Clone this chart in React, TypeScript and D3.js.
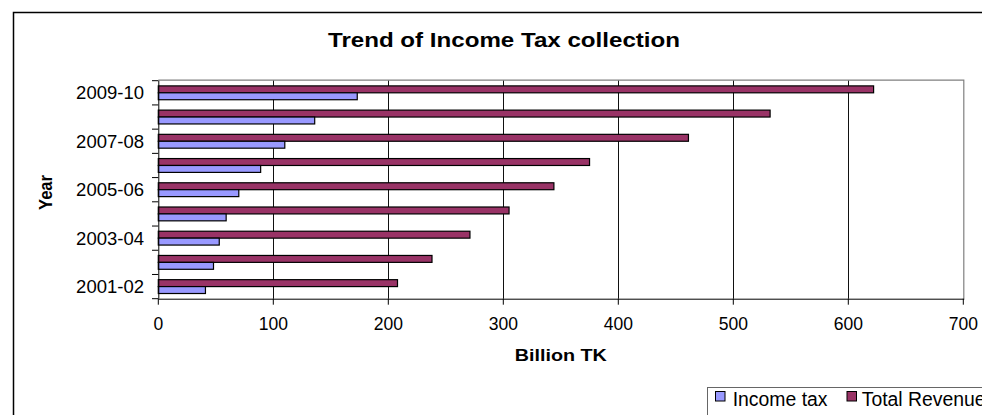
import React from "react";
import * as d3 from "d3";

const categories = ["2001-02", "2002-03", "2003-04", "2004-05", "2005-06", "2006-07", "2007-08", "2008-09", "2009-10"];
const incomeTax = [41, 48, 53, 59, 70, 89, 110, 136, 173];
const totalRevenue = [208, 238, 271, 305, 344, 375, 461, 532, 622];
const xTicks = [0, 100, 200, 300, 400, 500, 600, 700];
const shownYLabels = ["2009-10", "2007-08", "2005-06", "2003-04", "2001-02"];
const seriesNames = ["Total Revenue", "Income tax"];
const seriesColors: Record<string, string> = { "Income tax": "#9999FF", "Total Revenue": "#993366" };

const W = 982;
const H = 415;
const FONT = "'Liberation Sans', Arial, Helvetica, sans-serif";

export default function App() {
  const x = d3.scaleLinear().domain([0, 700]).range([158.3, 963.3]);
  const y = d3.scaleBand<string>().domain([...categories].reverse()).range([80.7, 298.7]).paddingInner(0).paddingOuter(0);
  const sub = d3.scaleBand<string>().domain(seriesNames).range([0, y.bandwidth()]).paddingInner(0).paddingOuter(0.75);
  const [x0, x1] = x.range();
  const [y0, y1] = y.range();
  const boundaries = d3.range(categories.length + 1).map((i) => y0 + i * y.step());

  const values: Record<string, number[]> = { "Income tax": incomeTax, "Total Revenue": totalRevenue };

  return (
    <svg width={W} height={H} style={{ position: "absolute", left: 0, top: 0, background: "#fff" }} fontFamily={FONT}>
      <rect x={0} y={0} width={W} height={H} fill="#fff" />
      {/* outer chart border */}
      <path d={`M13.5,${H + 5} V12.5 H${W + 5}`} fill="none" stroke="#000" strokeWidth={1.5} />
      {/* title */}
      <text x={504} y={47} textAnchor="middle" fontSize={20} fontWeight="bold" textLength={352} lengthAdjust="spacingAndGlyphs">
        Trend of Income Tax collection
      </text>
      {/* plot area border (top/right gray) */}
      <path d={`M${x0},${y0 - 0.5} H${x1 + 0.5} V${y1}`} fill="none" stroke="#808080" strokeWidth={1.2} />
      {/* gridlines */}
      {xTicks.filter((t) => t > 0 && t < 700).map((t) => (
        <line key={t} x1={Math.round(x(t)) + 0.5} x2={Math.round(x(t)) + 0.5} y1={y0} y2={y1} stroke="#111" strokeWidth={1} />
      ))}
      {/* bars */}
      {categories.map((c, i) => (
        <g key={c}>
          {seriesNames.map((s) => (
            <rect
              key={s}
              x={x(0)}
              y={(y(c) as number) + (sub(s) as number)}
              width={x(values[s][i]) - x(0)}
              height={sub.bandwidth()}
              fill={seriesColors[s]}
              stroke="#000"
              strokeWidth={1.2}
            />
          ))}
        </g>
      ))}
      {/* y axis */}
      <line x1={x0 + 0.5} x2={x0 + 0.5} y1={y0} y2={y1} stroke="#000" strokeWidth={1} />
      {boundaries.map((b, i) => (
        <line key={i} x1={152} x2={x0} y1={b} y2={b} stroke="#000" strokeWidth={1} />
      ))}
      {shownYLabels.map((c) => (
        <text key={c} x={144} y={(y(c) as number) + y.bandwidth() / 2} dy="0.35em" textAnchor="end" fontSize={18.5} fill="#000">
          {c}
        </text>
      ))}
      {/* x axis */}
      <line x1={x0} x2={x1 + 1} y1={y1 + 0.5} y2={y1 + 0.5} stroke="#000" strokeWidth={1} />
      {xTicks.map((t) => (
        <g key={t}>
          <line x1={x(t)} x2={x(t)} y1={y1} y2={y1 + 6} stroke="#000" strokeWidth={1} />
          <text x={x(t)} y={329.5} textAnchor="middle" fontSize={17.5} fill="#000">
            {t}
          </text>
        </g>
      ))}
      {/* axis titles */}
      <text x={(x0 + x1) / 2} y={361} textAnchor="middle" fontSize={17} fontWeight="bold" textLength={92} lengthAdjust="spacingAndGlyphs">
        Billion TK
      </text>
      <text transform="translate(51.5,192.5) rotate(-90)" textAnchor="middle" fontSize={19} fontWeight="bold" textLength={35} lengthAdjust="spacingAndGlyphs">
        Year
      </text>
      {/* legend */}
      <rect x={707.5} y={387.5} width={300} height={40} fill="#fff" stroke="#666" strokeWidth={1} />
      <rect x={715.5} y={391.5} width={9.5} height={9.5} fill={seriesColors["Income tax"]} stroke="#000" strokeWidth={1} />
      <text x={732.7} y={406} fontSize={19.4}>Income tax</text>
      <rect x={847} y={391.5} width={9.5} height={9.5} fill={seriesColors["Total Revenue"]} stroke="#000" strokeWidth={1} />
      <text x={861.7} y={406} fontSize={19.4}>Total Revenue</text>
    </svg>
  );
}
